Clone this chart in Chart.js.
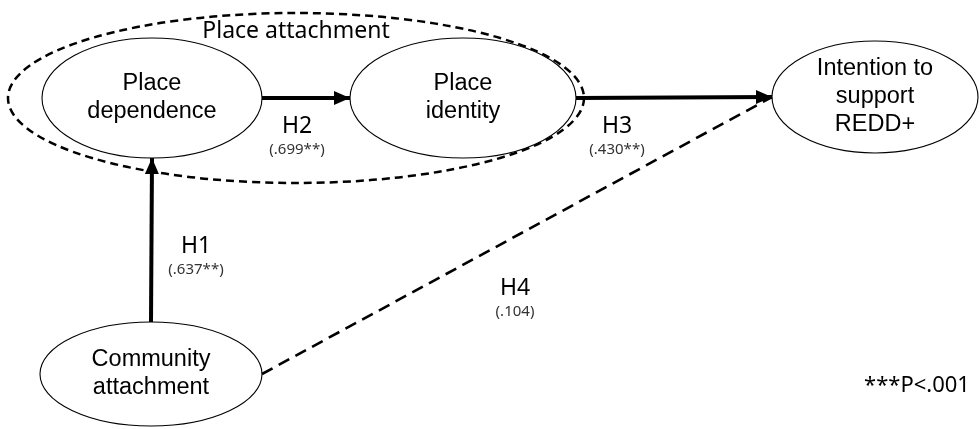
<!DOCTYPE html>
<html><head><meta charset="utf-8">
<script src="https://cdn.jsdelivr.net/npm/chart.js@4"></script>
<style>html,body{margin:0;padding:0;background:#fff}#wrap{width:979px;height:429px;position:relative}</style>
</head><body><div id="wrap"><canvas id="c"></canvas></div>
<script>
// ---- data ----
const nodeNames = ["Place\ndependence", "Place\nidentity", "Intention to\nsupport\nREDD+", "Community\nattachment"];
const nodeX = [152, 463, 875, 151];
const nodeY = [98, 98, 97, 374];
const nodeRX = [110, 113, 103, 111];
const nodeRY = [60, 60, 56, 52];

const groupLabel = "Place attachment";
const groupX = 296, groupY = 98, groupRX = 288, groupRY = 85;

const pathLabels = ["H1", "H2", "H3", "H4"];
const pathCoefs = ["(.637**)", "(.699**)", "(.430**)", "(.104)"];
const pathFrom = [3, 0, 1, 3];
const pathTo = [0, 1, 2, 2];
const fromSide = ["top", "right", "right", "right"];
const toSide = ["bottom", "left", "left", "left"];
const pathSignificant = [true, true, true, false];
const labelX = [196, 297, 617, 515];
const labelY = [246, 126, 126, 288];

const noteText = "***P<.001";
const noteX = 917, noteY = 386;

// ---- build ----
function anchor(i, side) {
  if (side === "top") return {x: nodeX[i], y: nodeY[i] - nodeRY[i]};
  if (side === "bottom") return {x: nodeX[i], y: nodeY[i] + nodeRY[i]};
  if (side === "left") return {x: nodeX[i] - nodeRX[i], y: nodeY[i]};
  return {x: nodeX[i] + nodeRX[i], y: nodeY[i]};
}
const datasets = pathLabels.map((lab, k) => {
  const a = anchor(pathFrom[k], fromSide[k]);
  const b = anchor(pathTo[k], toSide[k]);
  return {
    label: lab,
    data: [a, b],
    showLine: true,
    borderColor: "#000",
    borderWidth: pathSignificant[k] ? 4 : 2.6,
    borderDash: pathSignificant[k] ? [] : [12, 7],
    pointRadius: 0,
    clip: false,
    arrow: pathSignificant[k]
  };
});

const diagram = {
  id: "diagram",
  beforeDatasetsDraw(chart) {
    const ctx = chart.ctx, xs = chart.scales.x, ys = chart.scales.y;
    const px = v => xs.getPixelForValue(v), py = v => ys.getPixelForValue(v);
    const rx = r => Math.abs(px(r) - px(0)), ry = r => Math.abs(py(r) - py(0));
    ctx.save();
    ctx.beginPath();
    ctx.ellipse(px(groupX), py(groupY), rx(groupRX), ry(groupRY), 0, 0, Math.PI * 2);
    ctx.setLineDash([8, 5]);
    ctx.lineWidth = 2.5;
    ctx.strokeStyle = "#000";
    ctx.stroke();
    ctx.setLineDash([]);
    for (let i = 0; i < nodeNames.length; i++) {
      ctx.beginPath();
      ctx.ellipse(px(nodeX[i]), py(nodeY[i]), rx(nodeRX[i]), ry(nodeRY[i]), 0, 0, Math.PI * 2);
      ctx.fillStyle = "#fff";
      ctx.fill();
      ctx.lineWidth = 1.1;
      ctx.stroke();
    }
    ctx.restore();
  },
  afterDatasetsDraw(chart) {
    const ctx = chart.ctx;
    ctx.save();
    ctx.fillStyle = "#000";
    chart.data.datasets.forEach((ds, k) => {
      if (!ds.arrow) return;
      const meta = chart.getDatasetMeta(k);
      const p0 = meta.data[0], p1 = meta.data[1];
      const ang = Math.atan2(p1.y - p0.y, p1.x - p0.x);
      const L = 16, W = 7;
      ctx.beginPath();
      ctx.moveTo(p1.x, p1.y);
      ctx.lineTo(p1.x - L * Math.cos(ang) + W * Math.sin(ang), p1.y - L * Math.sin(ang) - W * Math.cos(ang));
      ctx.lineTo(p1.x - L * Math.cos(ang) - W * Math.sin(ang), p1.y - L * Math.sin(ang) + W * Math.cos(ang));
      ctx.closePath();
      ctx.fill();
    });
    const xs = chart.scales.x, ys = chart.scales.y;
    const px = v => xs.getPixelForValue(v), py = v => ys.getPixelForValue(v);
    ctx.textAlign = "center";
    ctx.textBaseline = "middle";
    ctx.font = "23.5px 'Liberation Sans', Arial, sans-serif";
    for (let i = 0; i < nodeNames.length; i++) {
      const lines = nodeNames[i].split("\n");
      const lh = 28;
      lines.forEach((t, j) => {
        ctx.fillText(t, px(nodeX[i]), py(nodeY[i]) + (j - (lines.length - 1) / 2) * lh);
      });
    }
    ctx.font = "23px 'Noto Sans', sans-serif";
    ctx.fillText(groupLabel, px(groupX), py(groupY - 67));
    for (let k = 0; k < pathLabels.length; k++) {
      ctx.font = "23px 'Noto Sans', sans-serif";
      ctx.fillStyle = "#000";
      ctx.fillText(pathLabels[k], px(labelX[k]), py(labelY[k]));
      ctx.font = "15px 'Noto Sans', sans-serif";
      ctx.fillStyle = "#333";
      ctx.fillText(pathCoefs[k], px(labelX[k]), py(labelY[k] + 24));
    }
    ctx.fillStyle = "#000";
    ctx.font = "22px 'Noto Sans', sans-serif";
    ctx.fillText(noteText, px(noteX), py(noteY));
    ctx.restore();
  }
};

new Chart(document.getElementById("c"), {
  type: "scatter",
  data: {datasets},
  options: {
    responsive: true,
    maintainAspectRatio: false,
    animation: false,
    layout: {padding: 0},
    plugins: {legend: {display: false}, tooltip: {enabled: false}},
    scales: {
      x: {type: "linear", min: 0, max: 979, display: false},
      y: {type: "linear", min: 0, max: 429, reverse: true, display: false}
    }
  },
  plugins: [diagram]
});
</script></body></html>
